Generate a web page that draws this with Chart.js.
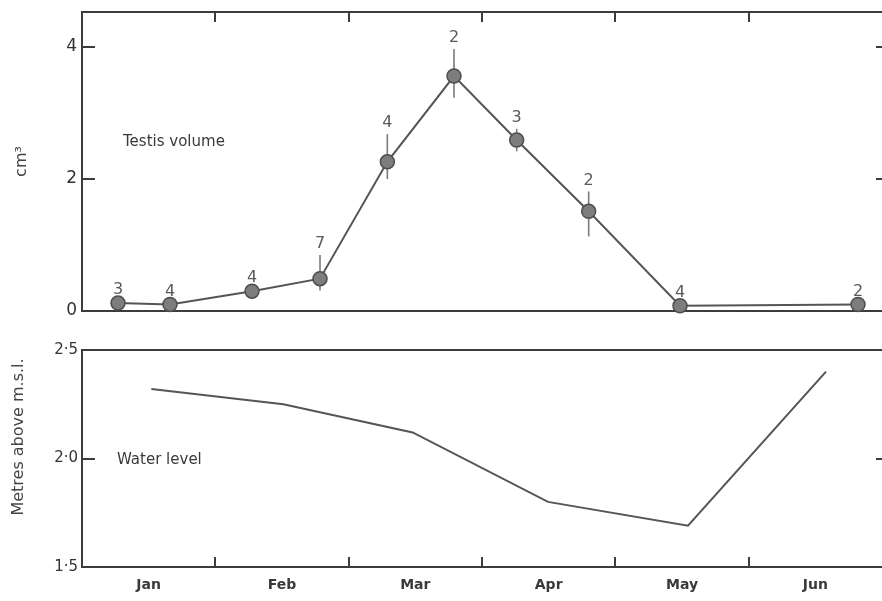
<!DOCTYPE html>
<html>
<head>
<meta charset="utf-8">
<script src="https://cdn.jsdelivr.net/npm/chart.js@4"></script>
<style>
  html, body { margin: 0; padding: 0; background: #ffffff; overflow: hidden; }
  #wrap { position: relative; width: 882px; height: 601px; }
  #c1 { position: absolute; left: 0; top: 0; }
  #c2 { position: absolute; left: 0; top: 330px; }
</style>
</head>
<body>
<div id="wrap">
  <canvas id="c1" width="882" height="330"></canvas>
  <canvas id="c2" width="882" height="271"></canvas>
</div>
<script>
// ---- data ----
const monthLabels = ['Jan', 'Feb', 'Mar', 'Apr', 'May', 'Jun'];
const monthCentres = [0.5, 1.5, 2.5, 3.5, 4.5, 5.5];
const monthBoundaries = [1, 2, 3, 4, 5];

const testisMonth = [0.27, 0.66, 1.275, 1.785, 2.29, 2.79, 3.26, 3.80, 4.485, 5.82];
const testisVolume = [0.12, 0.10, 0.30, 0.49, 2.26, 3.56, 2.59, 1.51, 0.08, 0.10];
const testisErrUp = [0, 0, 0, 0.36, 0.42, 0.41, 0.17, 0.30, 0, 0];
const testisErrDown = [0, 0, 0, 0.18, 0.26, 0.33, 0.17, 0.38, 0, 0];
const sampleSize = [3, 4, 4, 7, 4, 2, 3, 2, 4, 2];

const waterMonth = [0.52, 1.51, 2.48, 3.495, 4.545, 5.58];
const waterLevel = [2.32, 2.25, 2.12, 1.80, 1.69, 2.40];

const volumeTicks = [0, 2, 4];
const volumeTickLabels = ['0', '2', '4'];
const levelTicks = [1.5, 2.0, 2.5];
const levelTickLabels = ['1·5', '2·0', '2·5'];

// ---- styling ----
const INK = '#3c3c3c';
const LINE = '#555555';
const FONT = '"DejaVu Sans", "Liberation Sans", sans-serif';

function seg(ctx, x1, y1, x2, y2) {
  ctx.beginPath(); ctx.moveTo(x1, y1); ctx.lineTo(x2, y2); ctx.stroke();
}

const framePlugin = {
  id: 'frame',
  afterDraw(chart, args, opts) {
    const { ctx, chartArea: a } = chart;
    const x = chart.scales.x, y = chart.scales.y;
    ctx.save();
    ctx.strokeStyle = INK;
    ctx.lineWidth = 2;
    ctx.lineCap = 'butt';
    seg(ctx, a.left, a.top, a.right, a.top);
    opts.monthTicks.forEach(m => {
      const px = Math.round(x.getPixelForValue(m));
      if (opts.ticksSide === 'top') seg(ctx, px, a.top, px, a.top + 10);
      else seg(ctx, px, a.bottom, px, a.bottom - 10);
    });
    opts.yInward.forEach(v => {
      const py = Math.round(y.getPixelForValue(v));
      seg(ctx, a.left, py, a.left + 13, py);
      seg(ctx, a.right - 6, py, a.right, py);
    });
    // annotation text
    ctx.fillStyle = '#3a3a3a';
    ctx.font = '15px ' + FONT;
    ctx.textAlign = 'left';
    ctx.textBaseline = 'middle';
    ctx.fillText(opts.note, a.left + opts.noteDx, a.top + opts.noteDy);
    if (opts.yTitle) {
      ctx.save();
      ctx.translate(opts.yTitleX, opts.yTitleY);
      ctx.rotate(-Math.PI / 2);
      ctx.textAlign = 'center';
      ctx.font = '16px ' + FONT;
      ctx.fillStyle = '#444';
      ctx.fillText(opts.yTitle, 0, 0);
      ctx.restore();
    }
    ctx.restore();
  }
};

const errorPlugin = {
  id: 'errbars',
  beforeDatasetsDraw(chart) {
    const { ctx } = chart;
    const x = chart.scales.x, y = chart.scales.y;
    ctx.save();
    ctx.strokeStyle = '#7a7a7a';
    ctx.lineWidth = 1.6;
    testisVolume.forEach((v, i) => {
      if (testisErrUp[i] === 0 && testisErrDown[i] === 0) return;
      const px = x.getPixelForValue(testisMonth[i]);
      seg(ctx, px, y.getPixelForValue(v + testisErrUp[i]), px, y.getPixelForValue(v - testisErrDown[i]));
    });
    ctx.restore();
  },
  afterDatasetsDraw(chart) {
    const { ctx } = chart;
    const x = chart.scales.x, y = chart.scales.y;
    ctx.save();
    ctx.fillStyle = '#5a5a5a';
    ctx.font = '16px ' + FONT;
    ctx.textAlign = 'center';
    ctx.textBaseline = 'middle';
    testisVolume.forEach((v, i) => {
      const px = x.getPixelForValue(testisMonth[i]);
      const centre = y.getPixelForValue(v);
      const top = y.getPixelForValue(v + testisErrUp[i]);
      const ly = Math.min(top, centre - 2) - 11;
      ctx.fillText(String(sampleSize[i]), px, ly);
    });
    ctx.restore();
  }
};

const xCommon = {
  type: 'linear', min: 0, max: 6,
  grid: { display: false, drawTicks: false },
  border: { display: true, color: INK, width: 2 }
};

// ---- top panel: testis volume ----
new Chart(document.getElementById('c1'), {
  type: 'line',
  data: {
    datasets: [{
      data: testisMonth.map((m, i) => ({ x: m, y: testisVolume[i] })),
      borderColor: LINE,
      borderWidth: 2,
      pointRadius: 7,
      pointBackgroundColor: '#7d7d7d',
      pointBorderColor: '#4e4e4e',
      pointBorderWidth: 1.5,
      tension: 0,
      clip: false
    }]
  },
  options: {
    responsive: false,
    animation: false,
    layout: { autoPadding: false, padding: { top: 12, right: 0, bottom: 0, left: 0 } },
    plugins: {
      legend: { display: false },
      tooltip: { enabled: false },
      frame: { monthTicks: monthBoundaries, ticksSide: 'top', yInward: [2, 4],
               note: 'Testis volume', noteDx: 41, noteDy: 130 }
    },
    scales: {
      x: Object.assign({}, xCommon, {
        ticks: { display: false },
        afterFit: s => { s.height = 19; s.paddingLeft = 0; s.paddingRight = 0; }
      }),
      y: {
        type: 'linear', min: 0, max: 4.53,
        afterBuildTicks: s => { s.ticks = volumeTicks.map(v => ({ value: v })); },
        ticks: {
          callback: (v) => volumeTickLabels[volumeTicks.indexOf(v)],
          color: '#333', font: { family: FONT, size: 17 }, padding: 5
        },
        grid: { display: false, drawTicks: false },
        border: { display: true, color: INK, width: 2 },
        title: { display: true, text: 'cm³', color: '#444',
                 font: { family: FONT, size: 16 }, padding: { top: 12, bottom: 0 } },
        afterFit: s => { s.width = 82; s.paddingTop = 0; s.paddingBottom = 0; }
      }
    }
  },
  plugins: [errorPlugin, framePlugin]
});

// ---- bottom panel: water level ----
new Chart(document.getElementById('c2'), {
  type: 'line',
  data: {
    datasets: [{
      data: waterMonth.map((m, i) => ({ x: m, y: waterLevel[i] })),
      borderColor: LINE,
      borderWidth: 2,
      pointRadius: 0,
      tension: 0
    }]
  },
  options: {
    responsive: false,
    animation: false,
    layout: { autoPadding: false, padding: { top: 20, right: 0, bottom: 0, left: 0 } },
    plugins: {
      legend: { display: false },
      tooltip: { enabled: false },
      frame: { monthTicks: monthBoundaries, ticksSide: 'bottom', yInward: [2.0],
               note: 'Water level', noteDx: 35, noteDy: 110,
               yTitle: 'Metres above m.s.l.', yTitleX: 19, yTitleY: 107 }
    },
    scales: {
      x: Object.assign({}, xCommon, {
        afterBuildTicks: s => { s.ticks = monthCentres.map(v => ({ value: v })); },
        ticks: {
          callback: (v) => monthLabels[monthCentres.indexOf(v)],
          color: '#3a3a3a', font: { family: FONT, size: 14, weight: 'bold' }, padding: 10,
          maxRotation: 0, autoSkip: false
        },
        afterFit: s => { s.height = 34; s.paddingLeft = 0; s.paddingRight = 0; }
      }),
      y: {
        type: 'linear', min: 1.5, max: 2.5,
        afterBuildTicks: s => { s.ticks = levelTicks.map(v => ({ value: v })); },
        ticks: {
          callback: (v) => levelTickLabels[levelTicks.indexOf(v)],
          color: '#333', font: { family: FONT, size: 15 }, padding: 4
        },
        grid: { display: false, drawTicks: false },
        border: { display: true, color: INK, width: 2 },
        afterFit: s => { s.width = 82; s.paddingTop = 0; s.paddingBottom = 0; }
      }
    }
  },
  plugins: [framePlugin]
});
</script>
</body>
</html>
